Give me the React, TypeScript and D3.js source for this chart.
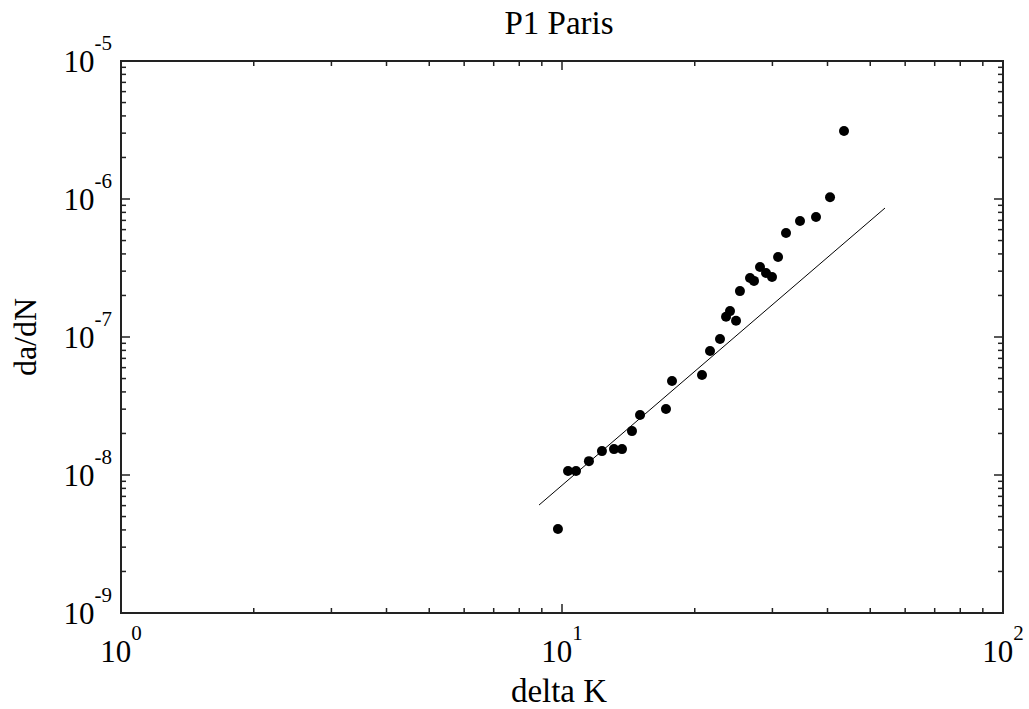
import React from "react";
import * as d3 from "d3";

const title = "P1 Paris";
const xLabel = "delta K";
const yLabel = "da/dN";

const xDecades = [0, 1, 2];
const yDecades = [-9, -8, -7, -6, -5];

const deltaK = [9.79, 10.32, 10.76, 11.51, 12.32, 13.12, 13.68, 14.41, 15.03, 17.21, 17.76, 20.77, 21.66, 22.82, 23.55, 24.04, 24.81, 25.32, 26.69, 27.25, 28.12, 29.01, 29.94, 30.9, 32.21, 34.65, 37.67, 40.53, 43.6];
const dadN = [4.06e-9, 1.07e-8, 1.07e-8, 1.26e-8, 1.49e-8, 1.54e-8, 1.54e-8, 2.08e-8, 2.72e-8, 3.01e-8, 4.8e-8, 5.3e-8, 7.92e-8, 9.67e-8, 1.4e-7, 1.54e-7, 1.31e-7, 2.15e-7, 2.68e-7, 2.55e-7, 3.22e-7, 2.91e-7, 2.72e-7, 3.8e-7, 5.67e-7, 6.93e-7, 7.4e-7, 1.03e-6, 3.11e-6];

const fitK = [8.87, 54.0];
const fitRate = [6.06e-9, 8.6e-7];

const W = 1029, H = 709;
const L = 121, R = 1003, T = 61, B = 613;
const FONT = "'Liberation Serif', 'Times New Roman', serif";

export default function App() {
  const x = d3.scaleLog().domain([1, 100]).range([L, R]);
  const y = d3.scaleLog().domain([1e-9, 1e-5]).range([B, T]);

  const minorX: number[] = [];
  for (let e = 0; e < 2; e++) for (let m = 2; m <= 9; m++) minorX.push(m * Math.pow(10, e));
  const minorY: number[] = [];
  for (let e = -9; e < -5; e++) for (let m = 2; m <= 9; m++) minorY.push(m * Math.pow(10, e));

  const line = d3.line<number>().x((_, i) => x(fitK[i])).y((_, i) => y(fitRate[i]));
  const minorLen = 5, majorLen = 9;

  return (
    <svg width={W} height={H} style={{ position: "absolute", left: 0, top: 0, background: "#fff" }} fontFamily={FONT}>
      <rect x={0} y={0} width={W} height={H} fill="#fff" />
      <g stroke="#222" strokeWidth={1.5}>
        {minorX.map((v, i) => (
          <g key={"mx" + i}>
            <line x1={x(v)} x2={x(v)} y1={B} y2={B - minorLen} />
            <line x1={x(v)} x2={x(v)} y1={T} y2={T + minorLen} />
          </g>
        ))}
        {xDecades.map((e) => (
          <g key={"Mx" + e}>
            <line x1={x(Math.pow(10, e))} x2={x(Math.pow(10, e))} y1={B} y2={B - majorLen} />
            <line x1={x(Math.pow(10, e))} x2={x(Math.pow(10, e))} y1={T} y2={T + majorLen} />
          </g>
        ))}
        {minorY.map((v, i) => (
          <g key={"my" + i}>
            <line x1={L} x2={L + minorLen} y1={y(v)} y2={y(v)} />
            <line x1={R} x2={R - minorLen} y1={y(v)} y2={y(v)} />
          </g>
        ))}
        {yDecades.map((e) => (
          <g key={"My" + e}>
            <line x1={L} x2={L + majorLen} y1={y(Math.pow(10, e))} y2={y(Math.pow(10, e))} />
            <line x1={R} x2={R - majorLen} y1={y(Math.pow(10, e))} y2={y(Math.pow(10, e))} />
          </g>
        ))}
      </g>
      <rect x={L} y={T} width={R - L} height={B - T} fill="none" stroke="#222" strokeWidth={2} />

      <path d={line(fitK) || ""} fill="none" stroke="#000" strokeWidth={1} />

      {deltaK.map((k, i) => (
        <circle key={i} cx={x(k)} cy={y(dadN[i])} r={5} fill="#000" />
      ))}

      {xDecades.map((e) => (
        <text key={"xl" + e} x={x(Math.pow(10, e))} y={662} textAnchor="middle" fontSize={31} fill="#000">
          10<tspan fontSize={21} dy={-22}>{String(e)}</tspan>
        </text>
      ))}
      {yDecades.map((e) => (
        <text key={"yl" + e} x={112} y={y(Math.pow(10, e)) + 11} textAnchor="end" fontSize={31} fill="#000">
          10<tspan fontSize={21} dy={-22}>{"-" + String(-e)}</tspan>
        </text>
      ))}

      <text x={559} y={34} textAnchor="middle" fontSize={33} fill="#000">{title}</text>
      <text x={559} y={702} textAnchor="middle" fontSize={33} fill="#000">{xLabel}</text>
      <text transform={`translate(36,337) rotate(-90)`} textAnchor="middle" fontSize={32} fill="#000">{yLabel}</text>
    </svg>
  );
}
